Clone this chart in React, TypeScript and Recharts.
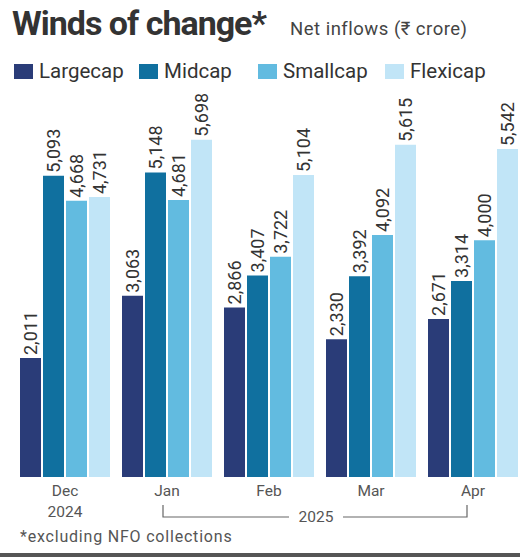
import React from "react";
import { BarChart, Bar, XAxis, YAxis, LabelList } from "recharts";

const months = ["Dec", "Jan", "Feb", "Mar", "Apr"];
const yearLabels = ["2024", "", "", "", ""];
const bracketYear = "2025";
const largecap = [2011, 3063, 2866, 2330, 2671];
const midcap = [5093, 5148, 3407, 3392, 3314];
const smallcap = [4668, 4681, 3722, 4092, 4000];
const flexicap = [4731, 5698, 5104, 5615, 5542];

const seriesNames = ["Largecap", "Midcap", "Smallcap", "Flexicap"];
const seriesKeys = ["largecap", "midcap", "smallcap", "flexicap"];
const colors = ["#2a3c78", "#10709f", "#62bbe0", "#c1e5f7"];

const data = months.map((m, i) => ({
  month: m,
  year: yearLabels[i],
  largecap: largecap[i],
  midcap: midcap[i],
  smallcap: smallcap[i],
  flexicap: flexicap[i],
}));

const FONT = "Roboto, 'Noto Sans', sans-serif";

const ValueLabel = (props: any) => {
  const { x, y, width, value } = props;
  const cx = x + width / 2;
  const ty = y - 3;
  return (
    <text
      x={cx}
      y={ty}
      transform={`rotate(-90, ${cx}, ${ty})`}
      textAnchor="start"
      dominantBaseline="central"
      fontSize={18}
      fontFamily={FONT}
      fill="#333"
    >
      {Number(value).toLocaleString("en-US")}
    </text>
  );
};

const MonthTick = (props: any) => {
  const { x, y, payload, index } = props;
  const i = index ?? months.indexOf(payload.value);
  const yr = yearLabels[i];
  const lineY = y + 32;
  return (
    <g>
      <text x={x} y={y + 11} textAnchor="middle" fontSize={15.5} fontFamily={FONT} fill="#555">
        {payload.value}
      </text>
      {yr ? (
        <text x={x} y={y + 32} textAnchor="middle" fontSize={15.5} fontFamily={FONT} fill="#555">
          {yr}
        </text>
      ) : null}
      {i === 1 ? (
        <g>
          <polyline
            points={`${x - 4},${lineY - 12} ${x - 4},${lineY} ${x + 122},${lineY}`}
            fill="none"
            stroke="#666"
            strokeWidth={1.2}
          />
          <text x={x + 149} y={y + 37} textAnchor="middle" fontSize={15.5} fontFamily={FONT} fill="#555">
            {bracketYear}
          </text>
        </g>
      ) : null}
      {i === 4 ? (
        <polyline
          points={`${x - 6},${lineY - 12} ${x - 6},${lineY} ${x - 130},${lineY}`}
          fill="none"
          stroke="#666"
          strokeWidth={1.2}
        />
      ) : null}
    </g>
  );
};

export default function App() {
  return (
    <div
      style={{
        position: "absolute",
        left: 0,
        top: 0,
        width: 520,
        height: 557,
        overflow: "hidden",
        background: "#fff",
        fontFamily: FONT,
      }}
    >
      <div
        style={{
          position: "absolute",
          left: 12,
          top: 3,
          fontSize: 34,
          fontWeight: 700,
          letterSpacing: -1,
          color: "#333",
          whiteSpace: "nowrap",
        }}
      >
        Winds of change*
      </div>
      <div
        style={{
          position: "absolute",
          left: 290,
          top: 18,
          fontSize: 18.5,
          letterSpacing: 0.5,
          color: "#444",
          whiteSpace: "nowrap",
        }}
      >
        Net inflows (₹ crore)
      </div>
      {seriesNames.map((n, i) => {
        const lefts = [14, 139, 258, 385];
        return (
          <div
            key={n}
            style={{
              position: "absolute",
              left: lefts[i],
              top: 59,
              display: "flex",
              alignItems: "center",
              whiteSpace: "nowrap",
            }}
          >
            <div style={{ width: 19, height: 15, background: colors[i], marginRight: 6 }} />
            <span style={{ fontSize: 20.5, color: "#333" }}>{n}</span>
          </div>
        );
      })}
      <div style={{ position: "absolute", left: 0, top: 0 }}>
        <BarChart
          width={524}
          height={557}
          data={data}
          margin={{ top: 122, right: 0, left: 14, bottom: 40 }}
          barCategoryGap={6}
          barGap={2}
        >
          <XAxis
            dataKey="month"
            axisLine={false}
            tickLine={false}
            height={40}
            interval={0}
            tick={<MonthTick />}
          />
          <YAxis hide domain={[0, 6000]} />
          {seriesKeys.map((k, i) => (
            <Bar key={k} dataKey={k} fill={colors[i]} isAnimationActive={false}>
              <LabelList dataKey={k} content={<ValueLabel />} />
            </Bar>
          ))}
        </BarChart>
      </div>
      <div
        style={{
          position: "absolute",
          left: 20,
          top: 527,
          fontSize: 16,
          letterSpacing: 0.8,
          color: "#555",
          whiteSpace: "nowrap",
        }}
      >
        *excluding NFO collections
      </div>
      <div
        style={{
          position: "absolute",
          left: 0,
          top: 553,
          width: 520,
          height: 4,
          background: "#555",
        }}
      />
    </div>
  );
}
